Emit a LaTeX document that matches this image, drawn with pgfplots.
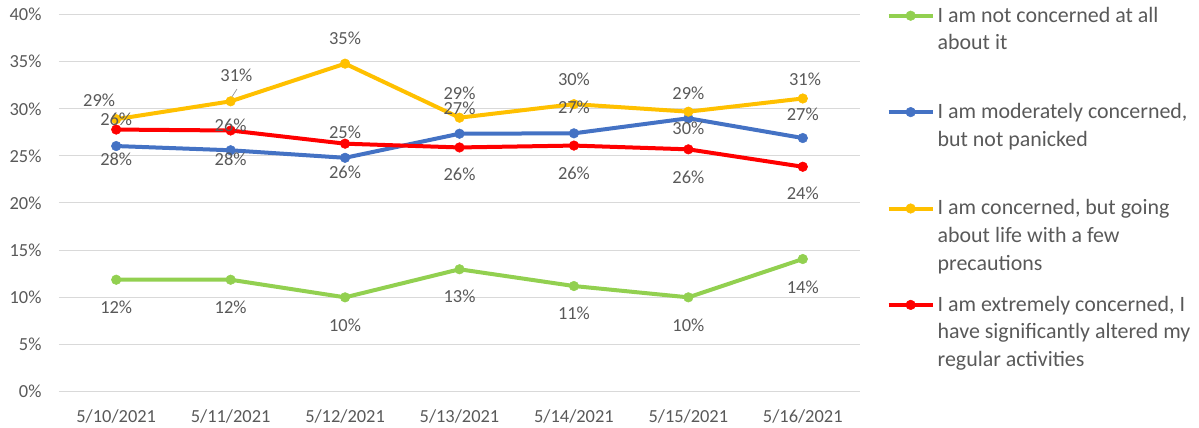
\documentclass[border=0pt]{standalone}
\usepackage{fontspec}
\setmainfont{Carlito}
\usepackage{pgfplots}
\pgfplotsset{compat=1.18}
\definecolor{cgreen}{HTML}{92D050}
\definecolor{cblue}{HTML}{4472C4}
\definecolor{cyellow}{HTML}{FFC000}
\definecolor{cred}{HTML}{FF0000}
\definecolor{ctext}{HTML}{595959}
\definecolor{cgrid}{HTML}{D9D9D9}
\newcommand{\lent}[1]{\parbox[t][96.4bp][t]{262bp}{\fontsize{22}{27.7}\selectfont\raggedright #1}}
\pgfplotsset{
  ser/.style={color=#1, line width=4bp, mark=*, mark size=4.8bp, mark options={solid, line width=0.5bp, fill=#1}},
  lab/.style={draw=none, mark=none, forget plot, point meta=explicit symbolic,
    nodes near coords={\pgfplotspointmeta\%},
    every node near coord/.append style={anchor=center, inner sep=0pt, font=\fontsize{18.5}{22}\selectfont, text=ctext}},
}
\begin{document}
\begin{tikzpicture}
\begin{axis}[
  at={(0,0)}, anchor=south west,
  scale only axis, width=801bp, height=376.6bp,
  xmin=-0.5, xmax=6.5, ymin=0, ymax=40,
  xtick={0,1,2,3,4,5,6},
  xticklabels={5/10/2021,5/11/2021,5/12/2021,5/13/2021,5/14/2021,5/15/2021,5/16/2021},
  ytick={0,5,10,15,20,25,30,35,40},
  yticklabel={\pgfmathprintnumber{\tick}\%},
  /pgf/number format/assume math mode=true,
  axis line style={draw=none}, major tick style={draw=none},
  ymajorgrids, grid style={cgrid, line width=1bp},
  tick label style={font=\fontsize{18.5}{22}\selectfont, text=ctext},
  yticklabel style={anchor=east, inner sep=0pt, xshift=-17.3bp},
  xticklabel style={anchor=center, inner sep=0pt, yshift=-24.7bp},
  legend style={at={(1.0333,1.021)}, anchor=north west, draw=none, fill=none,
    inner sep=0pt, outer sep=0pt, row sep=0pt, column sep=3bp,
    cells={anchor=base west},
    nodes={anchor=base west, inner sep=0pt, text depth=, text=ctext}},
  legend image code/.code={\draw[mark repeat=2, mark phase=2] plot coordinates {(0bp,6.3bp)(22bp,6.3bp)(44bp,6.3bp)};},
]
\addplot[ser=cgreen] coordinates {(0,11.85)(1,11.85)(2,9.98)(3,12.96)(4,11.18)(5,9.98)(6,14.05)};
\addlegendentry{\lent{I am not concerned at all\\about it}}
\addplot[ser=cblue] coordinates {(0,26.05)(1,25.6)(2,24.8)(3,27.36)(4,27.4)(5,29.0)(6,26.9)};
\addlegendentry{\lent{I am moderately concerned,\\but not panicked}}
\addplot[ser=cyellow] coordinates {(0,28.9)(1,30.8)(2,34.8)(3,29.06)(4,30.5)(5,29.7)(6,31.1)};
\addlegendentry{\lent{I am concerned, but going\\about life with a few\\precautions}}
\addplot[ser=cred] coordinates {(0,27.8)(1,27.7)(2,26.3)(3,25.9)(4,26.1)(5,25.7)(6,23.85)};
\addlegendentry{\lent{I am extremely concerned, I\\have significantly altered my\\regular activities}}
% data labels (as placed in the reference)
\addplot[lab] table[meta=l] {
x y l
0 8.88 12
1 8.88 12
2 6.97 10
3 10.05 13
4 8.28 11
5 7.04 10
6 11.05 14
};
\addplot[lab] table[meta=l] {
x y l
-0.149 30.9 29
1.05 33.6 31
2.0 37.5 35
3.0 31.7 29
4.0 33.1 30
5.0 31.6 29
6.02 33.1 31
};
\addplot[lab] table[meta=l] {
x y l
0 28.9 26
1 28.3 26
2 27.5 25
3 30.05 27
4 30.15 27
5 27.95 30
6 29.4 27
};
\addplot[lab] table[meta=l] {
x y l
0 24.65 28
1 24.65 28
2 23.3 26
3 23.0 26
4 23.15 26
5 22.7 26
6 21.0 24
};
\draw[ctext!60, line width=0.75bp] (axis cs:0.994,30.94) -- (axis cs:1.055,32.1);
\end{axis}
\pgfresetboundingbox
\path[use as bounding box] (-59bp,-36.7bp) rectangle (1140bp,391.3bp);
\end{tikzpicture}
\end{document}
